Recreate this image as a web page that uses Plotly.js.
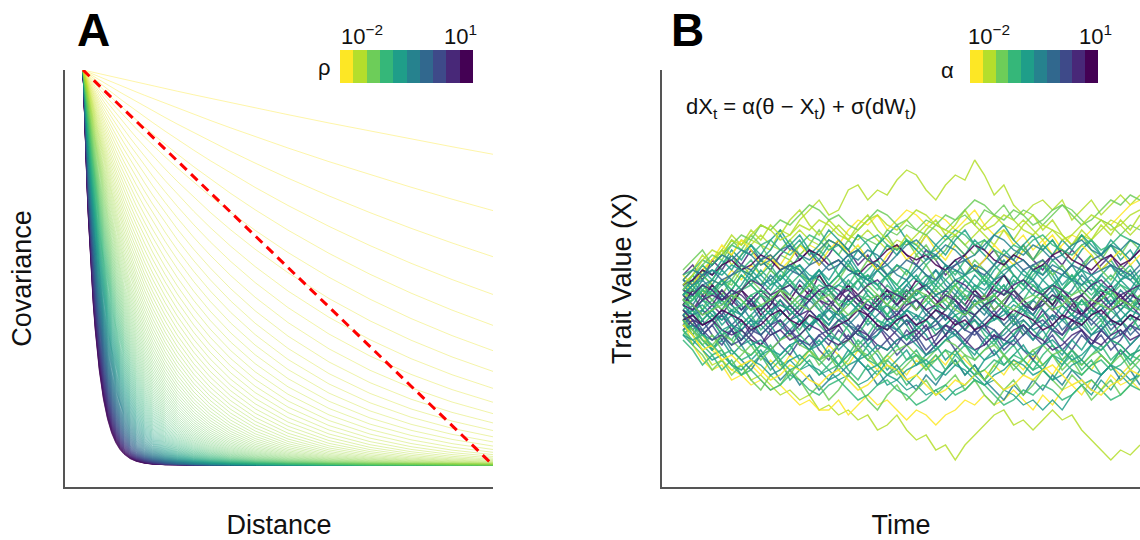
<!DOCTYPE html>
<html><head><meta charset="utf-8">
<script src="https://cdn.plot.ly/plotly-3.0.1.min.js"></script>
<style>html,body{margin:0;padding:0;background:#fff}#chart{width:1140px;height:540px}</style>
</head><body><div id="chart"></div>
<script>
// ---------- data ----------
const viridisReversed = ['#FDE725','#B4DE2C','#6DCD59','#35B779','#1F9E89','#26828E','#31688E','#3E4A89','#482878','#440154'];
const colorbarLevels = [0,1,2,3,4,5,6,7,8,9];
const colorbarLowLabel = '10<sup>−2</sup>';
const colorbarHighLabel = '10<sup>1</sup>';

const distance = [0,0.002,0.004,0.006,0.008,0.01,0.013,0.016,0.02,0.025,0.03,0.035,0.04,0.05,0.06,0.07,0.08,0.09,0.1,0.115,0.13,0.15,0.17,0.2,0.23,0.27,0.31,0.36,0.42,0.5,0.6,0.7,0.8,0.9,1];
const rhoValues = [
 0.24,0.44,0.64,0.84,1.04,1.24,1.44,1.64,1.84,2.04,
 2.24,2.44,2.64,2.84,3.04,3.24,3.44,3.64,3.84,4.04,
 4.24,4.44,4.64,4.84,5.04,5.24,5.44,5.64,5.84,6.04,
 6.24,6.44,6.64,6.84,7.04,7.24,7.44,7.64,7.84,8.04,
 8.24,8.44,8.64,8.84,9.04,9.24,9.44,9.64,9.84,10.04,
 10.24,10.44,10.64,10.84,11.04,11.24,11.44,11.64,11.84,12.04,
 12.24,12.44,12.64,12.84,13.04,13.24,13.44,13.64,13.84,14.04,
 14.24,14.44,14.64,14.84,15.04,15.24,15.44,15.64,15.84,16.04,
 16.24,16.44,16.64,16.84,17.04,17.24,17.44,17.64,17.84,18.04,
 18.24,18.44,18.64,18.84,19.04,19.24,19.44,19.64,19.84,20.04,
 20.24,20.44,20.64,20.84,21.04,21.24,21.44,21.64,21.84,22.04,
 22.24,22.44,22.64,22.84,23.04,23.24,23.44,23.64,23.84,24.04,
 24.24,24.44,24.64,24.84,25.04,25.24,25.44,25.64,25.84,26.04,
 26.24,26.44,26.64,26.84,27.04,27.24,27.44,27.64,27.84,28.04,
 28.24,28.44,28.64,28.84,29.04,29.24,29.44,29.64,29.84,30.04,
 30.24,30.44,30.64,30.84,31.04,31.24,31.44,31.64,31.84,32.04,
 32.24,32.44,32.64,32.84,33.04,33.24,33.44,33.64,33.84,34.04,
 34.24,34.44,34.64,34.84,35.04,35.24,35.44,35.64,35.84,36.04
];
const diagonalDistance = [0,1];
const diagonalCovariance = [1,0];

// Panel B: time steps and trait paths
const time = [0,1,2,3,4,5,6,7,8,9,10,11,12,13,14,15,16,17,18,19,20,21,22,23,24,25,26,27,28,29,30,31,32,33,34,35,36,37,38,39,40,41,42,43,44,45,46,47];
const outlierPaths = [
 [2,5,6,9,11,8,10,13,12,11,15,14, 17,19,21,18,19,23,24,21,23,22,25,27, 26,23,21,24,26,25,29,26,22,24,20,18, 20,21,19,21,17,19,21,18,20,22,20,22],
 [1,3,2,5,4,7,5,8,6,9,8,11, 10,12,11,13,12,15,17,16,18,15,17,19, 18,16,18,17,15,17,19,16,14,15,12,14, 11,13,10,12,14,13,15,17,16,18,20,21],
 [0,2,-1,3,5,4,7,6,9,8,10,9, 12,11,10,13,12,11,14,13,12,15,14,16, 15,17,16,15,17,18,16,19,18,20,17,19, 18,16,18,20,19,17,15,17,16,14,16,15],
 [-2,-6,-9,-12,-11,-13,-12,-15,-14,-16,-18,-17, -19,-18,-21,-20,-22,-21,-23,-22,-25,-24,-22,-25, -27,-26,-29,-28,-31,-28,-26,-24,-22,-21,-24,-23, -25,-23,-21,-23,-22,-25,-27,-29,-31,-29,-30,-28],
 [-1,-4,-6,-9,-11,-13,-14,-16,-15,-17,-16,-18, -20,-19,-21,-21,-19,-22,-20,-18,-20,-19,-21,-23, -21,-22,-24,-22,-21,-19,-20,-18,-20,-19,-17,-19, -21,-18,-20,-17,-16,-18,-15,-17,-14,-16,-15,-17],
 [0,-2,-4,-3,-6,-5,-8,-7,-10,-9,-12,-11, -13,-12,-14,-13,-15,-14,-16,-15,-13,-16,-15,-17, -16,-18,-17,-19,-17,-16,-14,-16,-15,-17,-18,-20, -19,-21,-19,-21,-18,-16,-18,-15,-17,-14,-16,-13],
 [-3,-8,-11,-13,-12,-15,-14,-12,-14,-11,-13,-10, -12,-9,-11,-8,-10,-12,-9,-11,-13,-10,-12,-14, -11,-13,-10,-12,-9,-11,-13,-15,-12,-14,-11,-13, -10,-12,-14,-11,-9,-11,-13,-10,-12,-14,-12,-10],
 [1,4,7,9,11,10,13,12,14,12,11,13, 15,13,12,14,16,14,13,15,13,11,13,12, 14,16,15,13,14,12,14,16,18,16,15,17, 15,13,15,14,12,14,13,15,17,16,14,16]
];
const outlierAlphaLevel = [1,0,2,1,0,4,0,1];
const corePaths = [
 [3,5,2,4,1,3,6,4,7,5,3,6, 8,5,7,4,2,5,3,6,4,1,3,5, 2,4,7,5,3,1,4,2,5,3,6,4, 2,5,7,4,6,3,1,4,2,5,3,6],
 [-2,-4,-1,-3,-6,-4,-7,-5,-2,-4,-1,-3, -5,-2,-4,-6,-3,-5,-8,-6,-3,-5,-2,-4, -7,-5,-3,-6,-4,-1,-3,-5,-2,-4,-6,-3, -5,-7,-4,-2,-5,-3,-6,-4,-1,-3,-5,-2],
 [0,2,-1,1,3,0,-2,1,-1,2,4,1, -1,2,0,-3,-1,2,0,3,1,-2,0,2, -1,1,4,2,0,-2,1,-1,2,0,-3,-1, 1,3,0,2,-1,1,-2,0,2,-1,1,0],
 [6,8,5,9,7,10,8,11,9,7,10,12, 9,11,8,10,13,11,8,10,7,9,12,10, 8,11,9,6,8,10,7,9,11,8,10,12, 9,7,10,8,11,9,6,8,10,7,9,11],
 [-6,-8,-5,-9,-7,-10,-8,-11,-9,-12,-10,-8, -11,-9,-7,-10,-12,-9,-11,-8,-10,-13,-11,-9, -12,-10,-8,-11,-9,-12,-14,-11,-9,-12,-10,-8, -11,-13,-10,-12,-9,-11,-8,-10,-12,-9,-11,-8],
 [1,-1,2,0,-2,1,3,0,2,-1,1,-2, 0,3,1,-1,2,4,1,-1,2,0,-2,1, -1,2,0,3,1,-2,0,2,-1,1,3,0, -2,1,-1,2,0,-2,1,3,0,2,-1,1],
 [4,2,5,3,0,2,-1,1,3,6,4,2, 5,3,1,4,6,3,5,2,0,3,1,4, 2,5,7,4,2,5,3,0,2,4,1,3, 5,2,4,1,3,6,4,2,0,3,1,4],
 [-4,-2,-5,-3,-1,-4,-2,0,-3,-1,-4,-6, -3,-5,-2,-4,-1,-3,-5,-2,0,-3,-1,-4, -2,-5,-3,-6,-4,-2,-5,-3,-1,-4,-2,-5, -7,-4,-2,-5,-3,-1,-4,-2,-5,-3,-6,-4],
 [7,9,11,8,10,13,11,14,12,9,11,13, 10,12,15,12,10,13,11,9,12,14,11,13, 10,12,9,11,14,12,10,13,11,8,10,12, 9,11,13,10,12,14,11,9,12,10,13,11],
 [-7,-9,-12,-10,-13,-11,-14,-12,-10,-13,-11,-15, -13,-11,-14,-12,-10,-13,-15,-12,-14,-11,-13,-16, -14,-12,-15,-13,-11,-14,-12,-15,-13,-10,-12,-14, -11,-13,-15,-12,-10,-13,-11,-14,-12,-9,-11,-13],
 [2,0,3,1,-1,2,0,-3,-1,1,-2,0, 2,-1,-3,0,-2,1,-1,-4,-2,0,-3,-1, 1,-2,0,-3,-1,2,0,-2,1,-1,-3,0, -2,1,3,0,-2,1,-1,2,0,-3,-1,1],
 [5,3,6,4,7,5,3,6,9,7,5,8, 6,4,7,5,8,10,7,5,8,6,3,5, 8,6,4,7,9,6,8,5,3,6,4,7, 5,8,6,3,5,7,4,6,8,5,7,4],
 [-3,-5,-3,-6,-8,-5,-7,-4,-6,-9,-7,-5, -8,-6,-9,-11,-8,-6,-9,-7,-4,-6,-8,-5, -7,-10,-8,-6,-9,-7,-5,-8,-6,-9,-7,-4, -6,-8,-5,-7,-9,-6,-8,-5,-7,-10,-8,-6],
 [0,-2,1,-1,-3,-1,-4,-2,0,-2,1,-1, -3,-5,-2,-4,-1,1,-1,-3,0,-2,-4,-1, -3,0,2,0,-2,-4,-2,0,-3,-1,1,-1, -4,-2,0,-2,1,-1,-3,-1,1,-1,-3,0],
 [2,4,7,5,8,11,9,12,10,13,15,12, 14,11,9,12,10,8,11,9,12,14,16,13, 11,14,12,10,13,15,12,10,8,11,9,12, 14,11,13,10,8,11,13,10,12,9,11,8],
 [-2,-5,-7,-9,-6,-9,-11,-13,-10,-12,-15,-13, -16,-14,-17,-15,-12,-14,-11,-13,-16,-14,-12,-15, -17,-14,-16,-13,-11,-14,-12,-15,-17,-19,-16,-18, -15,-17,-14,-16,-13,-15,-17,-14,-12,-15,-13,-16],
 [3,1,4,2,5,3,1,-1,2,0,3,5, 2,4,1,3,0,2,5,3,1,4,2,0, 3,1,-1,2,4,1,3,5,2,0,3,1, 4,2,0,3,5,2,4,1,3,0,2,4],
 [-5,-3,-6,-4,-2,-5,-3,-6,-8,-5,-3,-6, -4,-1,-3,-6,-4,-7,-5,-2,-4,-7,-5,-3, -6,-4,-8,-6,-3,-5,-2,-4,-7,-5,-3,-6, -4,-1,-4,-6,-3,-5,-8,-5,-3,-6,-4,-2],
 [1,3,6,4,2,5,8,6,4,7,5,9, 7,4,6,3,5,8,6,9,7,5,8,6, 10,8,5,7,4,6,9,7,5,8,6,4, 7,9,6,8,5,7,10,7,5,8,6,4],
 [-1,-3,-6,-4,-7,-5,-8,-6,-3,-5,-8,-10, -7,-9,-6,-8,-5,-7,-4,-6,-9,-7,-10,-8, -6,-9,-7,-4,-6,-8,-5,-7,-10,-8,-6,-9, -11,-8,-6,-9,-7,-5,-8,-6,-9,-7,-4,-6],
 [4,6,3,5,8,10,7,9,6,8,5,7, 10,8,11,9,6,8,5,7,9,6,4,7, 5,8,10,8,6,9,7,5,8,6,3,5, 8,6,9,7,5,8,10,7,9,6,8,5],
 [-4,-6,-3,-1,-4,-2,-5,-3,-6,-4,-7,-5, -3,-6,-8,-6,-9,-7,-5,-8,-6,-3,-5,-7, -4,-6,-9,-7,-5,-8,-10,-7,-5,-8,-6,-4, -7,-5,-8,-10,-7,-9,-6,-4,-7,-5,-8,-6],
 [0,3,1,4,2,0,3,1,-2,0,3,1, 4,2,6,3,1,4,2,-1,1,3,0,2, 5,3,1,-1,2,0,3,1,4,6,3,1, -1,2,0,3,1,-2,0,2,4,1,3,0],
 [-2,0,-3,-1,2,0,-2,1,-1,-4,-2,0, -2,1,-1,-3,-1,-4,-2,1,-1,2,0,-2, -5,-3,-1,-3,0,-2,1,-1,-3,-1,-4,-2, 1,-1,-3,0,-2,-4,-2,0,-3,-1,1,-1],
 [5,7,10,8,11,14,12,15,13,16,14,17, 19,16,14,17,15,13,16,18,15,13,11,14, 12,15,17,14,16,19,16,14,12,15,13,16, 18,15,17,14,12,15,13,16,14,17,15,18],
 [-5,-8,-10,-13,-11,-14,-12,-15,-17,-14,-16,-13, -15,-18,-16,-19,-17,-14,-16,-19,-21,-18,-16,-19, -17,-15,-18,-16,-14,-17,-15,-18,-20,-17,-15,-18, -16,-13,-15,-17,-14,-16,-19,-17,-15,-18,-16,-14],
 [2,4,1,3,5,2,4,7,5,3,6,4, 2,5,7,4,6,9,6,4,7,5,2,4, 6,3,5,8,5,3,6,4,7,9,6,4, 7,5,3,6,8,5,3,6,4,7,5,3],
 [-3,-1,-4,-2,-5,-7,-4,-2,-5,-3,-1,-3, -6,-4,-2,-5,-7,-4,-6,-3,-5,-2,-4,-7, -5,-3,-6,-4,-2,-5,-3,-6,-8,-5,-3,-6, -4,-2,-5,-7,-4,-2,-5,-3,-6,-4,-2,-5],
 [1,-1,-3,-1,1,-2,0,2,0,-2,-4,-2, 0,2,-1,1,-1,-3,0,2,0,-2,1,3, 1,-1,-3,-1,2,0,-2,0,2,4,1,-1, -3,0,2,0,-2,1,-1,-3,-1,1,-1,2],
 [6,4,7,9,12,10,13,11,8,10,7,9, 12,10,8,11,13,10,12,9,7,10,12,9, 11,14,11,9,12,10,7,9,12,10,8,11, 9,12,14,11,9,12,10,7,9,11,8,10],
 [-6,-4,-7,-9,-6,-8,-5,-7,-10,-8,-11,-9, -6,-8,-11,-9,-12,-10,-7,-9,-12,-10,-8,-11, -9,-12,-10,-13,-10,-8,-11,-9,-7,-10,-8,-11, -13,-10,-8,-11,-9,-12,-10,-8,-11,-9,-12,-10],
 [0,1,3,1,-1,1,3,5,3,1,3,0, 2,4,2,0,-2,0,2,4,2,0,3,1, -1,1,3,1,4,2,0,2,-1,1,3,1, -1,2,4,2,0,2,-1,1,3,1,0,2],
 [3,5,8,6,9,7,10,12,9,11,14,11, 13,10,12,15,13,11,14,12,9,12,10,13, 11,9,12,14,12,10,13,11,14,16,13,11, 9,12,10,13,11,14,12,10,13,11,9,12],
 [-3,-5,-8,-6,-9,-12,-10,-8,-11,-9,-12,-14, -11,-9,-12,-10,-13,-11,-8,-11,-9,-12,-14,-12, -10,-13,-11,-9,-12,-10,-13,-15,-12,-10,-13,-11, -9,-12,-10,-13,-11,-14,-12,-10,-12,-10,-13,-11],
 [2,0,-2,0,3,1,-1,1,3,1,-1,-3, -1,1,3,1,-1,2,0,-2,0,2,0,3, 1,-1,-3,-1,1,-1,2,0,-2,0,3,1, -1,1,-1,-3,0,2,0,-2,0,2,0,-2],
 [-1,1,4,2,5,3,6,4,2,4,7,5, 3,5,2,4,6,4,7,5,3,6,4,2, 4,6,3,5,7,5,3,6,4,2,5,3, 6,8,5,3,6,4,2,4,6,4,2,5],
 [0,1,3,2,4,5,3,4,2,1,3,4, 6,5,3,2,4,3,5,6,4,2,3,1, 2,4,5,3,4,6,7,5,4,2,3,5, 4,2,1,3,2,4,5,3,2,4,3,1],
 [-1,-2,-1,-3,-2,-4,-5,-3,-4,-6,-5,-3, -2,-4,-3,-1,-2,-4,-5,-7,-6,-4,-5,-3, -4,-2,-3,-5,-6,-4,-3,-5,-7,-6,-4,-3, -5,-4,-2,-3,-5,-4,-6,-5,-3,-4,-2,-3],
 [4,5,7,6,8,9,7,8,10,9,7,8, 9,11,10,8,9,7,6,8,9,11,12,10, 9,10,8,7,9,10,12,11,9,8,10,9, 7,8,10,11,9,8,7,9,10,8,9,11],
 [-4,-5,-7,-8,-6,-7,-9,-10,-8,-9,-7,-6, -8,-9,-11,-10,-8,-7,-9,-10,-12,-11,-9,-8, -10,-11,-9,-7,-8,-10,-11,-9,-8,-10,-12,-11, -9,-8,-10,-9,-11,-12,-10,-9,-7,-8,-10,-9],
 [2,3,1,0,1,-1,0,2,3,2,0,-1, 1,2,4,3,1,0,2,1,-1,0,2,3, 1,2,0,-1,1,3,2,0,1,-1,-2,0, 1,3,4,2,1,0,1,3,2,0,-1,1],
 [-2,-1,0,-2,-3,-1,-2,-4,-3,-1,0,-1, -3,-4,-2,-1,-3,-2,0,-1,-3,-4,-3,-1, -2,-3,-5,-4,-2,-1,-2,-4,-3,-2,0,-1, -2,-4,-5,-3,-2,-3,-1,-2,-4,-3,-1,-2],
 [6,7,9,8,10,12,11,10,12,13,11,10, 12,14,13,11,12,10,11,13,14,12,11,13, 12,10,11,13,15,14,12,13,11,10,12,11, 13,14,12,11,10,12,13,11,12,14,13,12],
 [-6,-7,-9,-11,-10,-12,-13,-11,-12,-14,-13,-11, -10,-12,-13,-15,-14,-12,-11,-13,-12,-14,-15,-13, -12,-11,-13,-14,-12,-13,-15,-16,-14,-13,-11,-12, -14,-13,-15,-14,-12,-11,-13,-14,-12,-13,-15,-14],
 [1,2,4,5,4,6,7,6,4,5,7,8, 7,5,6,8,9,7,6,5,7,8,6,5, 7,9,10,8,7,6,8,7,5,6,8,9, 7,6,8,7,5,4,6,7,8,6,5,7],
 [-1,-3,-4,-3,-5,-6,-5,-7,-8,-6,-5,-7, -6,-4,-5,-7,-8,-7,-5,-6,-8,-9,-7,-6, -5,-7,-6,-4,-5,-7,-9,-8,-6,-7,-5,-4, -6,-7,-9,-8,-6,-5,-7,-8,-6,-5,-7,-6],
 [3,2,4,3,1,2,3,5,4,2,3,4, 2,1,3,4,3,1,2,4,5,3,2,1, 3,4,2,3,5,4,2,1,3,2,4,5, 3,2,4,3,1,2,4,5,3,2,3,4],
 [-3,-2,-4,-3,-1,-2,-3,-5,-4,-2,-1,-3, -4,-2,-3,-5,-4,-3,-1,-2,-4,-5,-3,-2, -4,-3,-1,-2,-4,-3,-5,-4,-2,-3,-1,-2, -3,-5,-4,-2,-3,-4,-2,-1,-3,-4,-2,-3],
 [3,6,8,10,9,12,14,13,16,15,17,16, 18,20,19,17,18,16,15,17,19,18,16,17, 15,14,16,18,17,19,21,20,18,17,19,18, 16,17,19,20,18,16,17,19,21,20,22,21],
 [-3,-6,-8,-10,-9,-12,-14,-13,-15,-17,-16,-14, -15,-17,-18,-16,-15,-17,-19,-18,-16,-15,-17,-18, -20,-19,-17,-16,-18,-17,-15,-16,-18,-20,-19,-17, -18,-16,-17,-19,-18,-16,-15,-17,-19,-18,-16,-17],
 [5,4,6,7,5,6,8,7,9,10,8,7, 6,8,9,7,8,10,11,9,8,6,7,9, 8,6,5,7,8,9,7,6,8,10,9,7, 8,9,7,6,8,7,9,10,8,7,6,8],
 [-5,-4,-6,-7,-5,-4,-6,-8,-7,-9,-10,-8, -7,-9,-8,-6,-7,-9,-11,-10,-8,-9,-7,-6, -8,-10,-9,-7,-6,-8,-9,-11,-10,-8,-7,-9, -10,-8,-7,-9,-11,-10,-8,-9,-7,-8,-10,-9],
 [0,-1,1,2,1,3,2,0,-1,1,2,0, -2,-1,1,0,2,3,1,0,-1,-3,-2,0, 1,-1,0,2,1,-1,-2,0,1,3,2,0, -1,0,2,1,-1,-2,0,1,-1,0,2,1],
 [2,4,5,7,6,8,7,5,6,4,5,7, 8,6,5,3,4,6,7,5,4,6,8,7, 5,4,2,3,5,6,4,3,5,7,8,6, 5,3,4,6,5,7,6,4,3,5,6,4],
 [-2,-4,-5,-7,-6,-8,-7,-5,-6,-4,-3,-5, -7,-8,-6,-5,-3,-4,-6,-7,-5,-4,-6,-8, -7,-5,-4,-2,-3,-5,-6,-4,-5,-7,-8,-6, -4,-3,-5,-6,-4,-2,-3,-5,-7,-6,-4,-5],
 [4,6,9,11,10,13,12,14,16,15,13,14, 16,15,17,16,14,13,15,17,18,16,15,17, 19,18,16,15,14,16,17,15,16,18,17,15, 14,16,15,13,14,16,18,17,15,16,18,19],
 [-4,-6,-9,-8,-11,-10,-12,-11,-13,-15,-14,-12, -13,-15,-16,-14,-13,-15,-17,-16,-14,-12,-13,-15, -14,-16,-18,-17,-15,-16,-14,-13,-15,-17,-16,-14, -15,-13,-12,-14,-16,-15,-17,-18,-16,-15,-13,-14],
 [1,0,-2,-1,0,2,1,-1,0,1,3,2, 0,-1,1,2,0,-2,-1,1,2,0,-1,1, 3,2,0,1,-1,-2,0,1,2,0,-1,1, 2,1,-1,0,2,3,1,0,-1,1,0,-1],
 [5,7,6,8,10,9,11,10,8,9,11,12, 10,9,11,13,12,10,9,11,10,8,10,12, 13,11,10,12,11,9,10,12,14,13,11,10, 12,11,9,10,12,13,11,10,12,11,13,12],
 [-5,-7,-6,-8,-10,-9,-11,-10,-8,-9,-11,-13, -12,-10,-11,-13,-12,-10,-9,-11,-12,-14,-13,-11, -10,-12,-11,-9,-10,-12,-14,-13,-11,-12,-10,-11, -13,-12,-10,-11,-13,-14,-12,-11,-13,-12,-10,-11]
];
const coreAlphaLevel = [4,3,3,8,4,8,5,6,2,3,5,4,7,4,4,5,3,8,2,7,3,4,9,5,1,2,4,3,3,0,3,2,4,2,8,3,
                        3,5,9,2,3,4,3,4,5,8,8,9,2,3,6,4,8,4,7,1,0,2,5,3];

// ---------- helpers (styling only) ----------
function hexToRgb(h){return [parseInt(h.slice(1,3),16),parseInt(h.slice(3,5),16),parseInt(h.slice(5,7),16)];}
function paletteAt(f){
  f=Math.max(0,Math.min(1,f));
  const p=f*(viridisReversed.length-1), i=Math.min(Math.floor(p),viridisReversed.length-2), r=p-i;
  const a=hexToRgb(viridisReversed[i]), b=hexToRgb(viridisReversed[i+1]);
  return 'rgb('+a.map((v,k)=>Math.round(v+(b[k]-v)*r)).join(',')+')';
}

const traces = [];

// Panel A: exponential covariance curves, purple first so lighter ones lie on top
const rhoMin = rhoValues[0], rhoMax = rhoValues[rhoValues.length-1];
rhoValues.slice().reverse().forEach(rho => {
  traces.push({
    type:'scatter', mode:'lines', x:distance, y:distance.map(d=>Math.exp(-rho*d)),
    xaxis:'x', yaxis:'y', hoverinfo:'skip',
    line:{color:paletteAt((rho-rhoMin)/(rhoMax-rhoMin)), width:0.8}, opacity:0.5
  });
});
traces.push({
  type:'scatter', mode:'lines', x:diagonalDistance, y:diagonalCovariance,
  xaxis:'x', yaxis:'y', hoverinfo:'skip',
  line:{color:'#ff0000', width:3, dash:'9px,6px'}
});

// Panel B: trait paths
outlierPaths.forEach((p,i)=>traces.push({
  type:'scatter', mode:'lines', x:time, y:p, xaxis:'x2', yaxis:'y2', hoverinfo:'skip',
  line:{color:viridisReversed[outlierAlphaLevel[i]], width:1.4}, opacity:0.85
}));
corePaths.forEach((p,i)=>traces.push({
  type:'scatter', mode:'lines', x:time, y:p, xaxis:'x2', yaxis:'y2', hoverinfo:'skip',
  line:{color:viridisReversed[coreAlphaLevel[i]], width:1.5}, opacity:0.85
}));

// Colour keys
const discreteScale = viridisReversed.map((c,i)=>[i/(viridisReversed.length-1), c]);
traces.push({type:'heatmap', x:colorbarLevels, y:[0], z:[colorbarLevels], xaxis:'x3', yaxis:'y3',
  colorscale:discreteScale, zmin:0, zmax:9, showscale:false, hoverinfo:'skip'});
traces.push({type:'heatmap', x:colorbarLevels, y:[0], z:[colorbarLevels], xaxis:'x4', yaxis:'y4',
  colorscale:discreteScale, zmin:0, zmax:9, showscale:false, hoverinfo:'skip'});

const W=1140, H=540;
const px = v => v/W, py = v => (H-v)/H;
const axBase = {showline:true, linecolor:'#555', linewidth:2, showgrid:false, zeroline:false,
  showticklabels:false, ticks:'', fixedrange:true};
const titleFont = {size:27, color:'#111', family:'Liberation Sans, Arial, sans-serif'};
const hidden = {visible:false, fixedrange:true};

const layout = {
  width:W, height:H, margin:{l:0,r:0,t:0,b:0}, showlegend:false,
  paper_bgcolor:'#ffffff', plot_bgcolor:'rgba(0,0,0,0)',
  font:{family:'Liberation Sans, Arial, sans-serif', color:'#111'},
  xaxis:Object.assign({}, axBase, {domain:[px(65),px(493)], range:[-0.0439,1], anchor:'y',
    title:{text:'Distance', font:titleFont, standoff:33}}),
  yaxis:Object.assign({}, axBase, {domain:[py(487),py(70)], range:[-0.0557,1], anchor:'x',
    title:{text:'Covariance', font:titleFont, standoff:24}}),
  xaxis2:Object.assign({}, axBase, {domain:[px(662),1], range:[-2.16,47], anchor:'y2',
    title:{text:'Time', font:titleFont, standoff:33}}),
  yaxis2:Object.assign({}, axBase, {domain:[py(487),py(70)], range:[-36.4,47], anchor:'x2',
    title:{text:'Trait Value (X)', font:titleFont, standoff:21}}),
  xaxis3:Object.assign({}, hidden, {domain:[px(340),px(473)], range:[-0.5,9.5], anchor:'y3'}),
  yaxis3:Object.assign({}, hidden, {domain:[py(83),py(50)], range:[-0.5,0.5], anchor:'x3'}),
  xaxis4:Object.assign({}, hidden, {domain:[px(970),px(1098)], range:[-0.5,9.5], anchor:'y4'}),
  yaxis4:Object.assign({}, hidden, {domain:[py(83),py(50)], range:[-0.5,0.5], anchor:'x4'}),
  annotations:[
    {text:'<b>A</b>', x:px(93), y:py(30), xref:'paper', yref:'paper', showarrow:false, xanchor:'center', yanchor:'middle', font:{size:46, color:'#000'}},
    {text:'<b>B</b>', x:px(687), y:py(30), xref:'paper', yref:'paper', showarrow:false, xanchor:'center', yanchor:'middle', font:{size:46, color:'#000'}},
    {text:'ρ', x:px(324), y:py(67), xref:'paper', yref:'paper', showarrow:false, xanchor:'center', yanchor:'middle', font:{size:22, color:'#111'}},
    {text:'α', x:px(947), y:py(70), xref:'paper', yref:'paper', showarrow:false, xanchor:'center', yanchor:'middle', font:{size:22, color:'#111'}},
    {text:colorbarLowLabel, x:px(339), y:py(51), xref:'paper', yref:'paper', showarrow:false, xanchor:'left', yanchor:'bottom', font:{size:22, color:'#111'}},
    {text:colorbarHighLabel, x:px(479), y:py(51), xref:'paper', yref:'paper', showarrow:false, xanchor:'right', yanchor:'bottom', font:{size:22, color:'#111'}},
    {text:colorbarLowLabel, x:px(966), y:py(51), xref:'paper', yref:'paper', showarrow:false, xanchor:'left', yanchor:'bottom', font:{size:22, color:'#111'}},
    {text:colorbarHighLabel, x:px(1114), y:py(51), xref:'paper', yref:'paper', showarrow:false, xanchor:'right', yanchor:'bottom', font:{size:22, color:'#111'}},
    {text:'dX<sub>t</sub> = α(θ − X<sub>t</sub>) + σ(dW<sub>t</sub>)', x:px(684), y:py(108), xref:'paper', yref:'paper', showarrow:false, xanchor:'left', yanchor:'middle', font:{size:22, color:'#111'}}
  ]
};

Plotly.newPlot('chart', traces, layout, {staticPlot:true, displayModeBar:false});
</script>
</body></html>
